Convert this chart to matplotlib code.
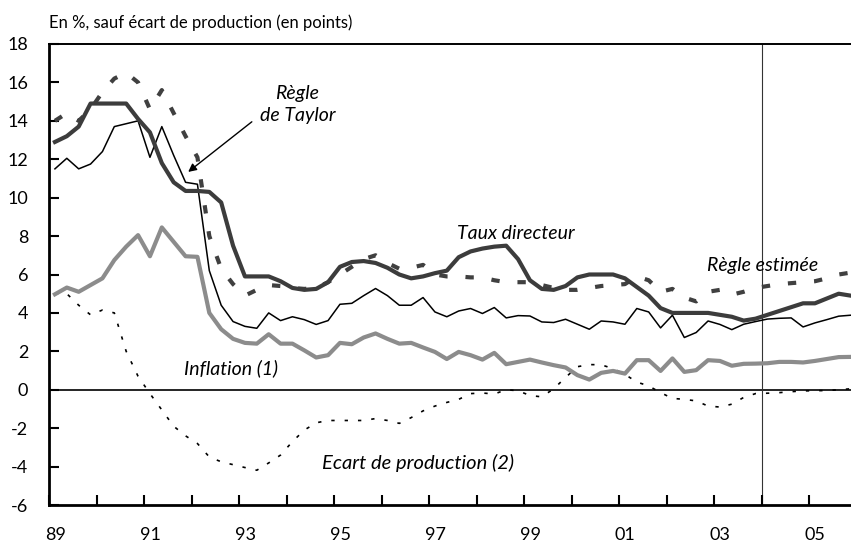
import numpy as np
import matplotlib.pyplot as plt

plt.rcParams['font.family'] = ['Lato', 'DejaVu Sans']
plt.rcParams['axes.unicode_minus'] = False

# quarterly data, 1989Q1 -> 2005Q4
taux = [12.9, 13.2, 13.7, 14.9, 14.9, 14.9, 14.9, 14.1, 13.4, 11.8, 10.8, 10.35,
        10.35, 10.3, 9.75, 7.5, 5.9, 5.9, 5.9, 5.65, 5.3, 5.2, 5.25, 5.6,
        6.4, 6.65, 6.7, 6.6, 6.35, 6.0, 5.8, 5.9, 6.07, 6.2, 6.9, 7.2,
        7.35, 7.45, 7.5, 6.8, 5.7, 5.25, 5.2, 5.4, 5.85, 6.0, 6.0, 6.0,
        5.8, 5.35, 4.9, 4.25, 4.0, 4.0, 4.0, 4.0, 3.9, 3.8, 3.6, 3.7,
        3.9, 4.1, 4.3, 4.5, 4.5, 4.75, 5.0, 4.9]
taylor = [11.5, 12.05, 11.5, 11.75, 12.4, 13.7, 13.85, 14.0, 12.1, 13.7, 12.2, 10.8,
          10.7, 6.2, 4.4, 3.55, 3.3, 3.2, 4.0, 3.6, 3.8, 3.65, 3.4, 3.6,
          4.45, 4.5, 4.9, 5.27, 4.9, 4.4, 4.4, 4.8, 4.05, 3.8, 4.1, 4.23,
          3.97, 4.28, 3.74, 3.86, 3.84, 3.53, 3.5, 3.67, 3.41, 3.15, 3.58, 3.53,
          3.41, 4.23, 4.05, 3.22, 3.88, 2.72, 2.98, 3.58, 3.4, 3.13, 3.41, 3.55,
          3.68, 3.72, 3.74, 3.27, 3.48, 3.65, 3.83, 3.88]
estimee = [14.0, 14.4, 14.0, 14.6, 15.5, 16.2, 16.5, 16.0, 14.6, 15.6, 14.4, 13.2,
           12.1, 8.0, 6.3, 5.5, 4.9, 5.2, 5.45, 5.4, 5.3, 5.25, 5.3, 5.6,
           6.0, 6.4, 6.8, 7.0, 6.6, 6.3, 6.35, 6.5, 6.0, 5.9, 5.9, 5.85,
           5.85, 5.7, 5.6, 5.6, 5.6, 5.45, 5.3, 5.2, 5.2, 5.3, 5.4, 5.45,
           5.5, 5.9, 5.7, 5.1, 5.25, 4.8, 4.6, 5.1, 5.2, 4.95, 5.1, 5.3,
           5.4, 5.5, 5.55, 5.6, 5.65, 5.8, 6.0, 6.1]
inflation = [4.97, 5.32, 5.1, 5.45, 5.8, 6.75, 7.45, 8.05, 6.95, 8.45, 7.7, 6.95,
             6.92, 4.0, 3.15, 2.65, 2.44, 2.4, 2.89, 2.4, 2.4, 2.05, 1.68, 1.8,
             2.44, 2.37, 2.72, 2.93, 2.65, 2.4, 2.44, 2.2, 1.97, 1.6, 1.97, 1.8,
             1.57, 1.92, 1.33, 1.45, 1.57, 1.42, 1.28, 1.16, 0.76, 0.53, 0.88, 0.98,
             0.84, 1.54, 1.54, 0.98, 1.63, 0.93, 1.02, 1.54, 1.5, 1.25, 1.35, 1.36,
             1.38, 1.45, 1.45, 1.42, 1.5, 1.6, 1.7, 1.71]
ecart = [5.0, 5.0, 4.4, 3.9, 4.15, 4.0, 2.0, 0.7, -0.2, -1.05, -1.9, -2.4,
         -2.8, -3.5, -3.75, -3.9, -4.05, -4.19, -3.81, -3.4, -2.7, -2.1, -1.72, -1.6,
         -1.6, -1.6, -1.6, -1.5, -1.6, -1.75, -1.45, -1.1, -0.85, -0.66, -0.5, -0.2,
         -0.17, -0.22, 0.0, -0.05, -0.3, -0.37, 0.05, 0.64, 1.2, 1.31, 1.3, 1.1,
         0.8, 0.4, 0.2, -0.15, -0.45, -0.5, -0.58, -0.85, -0.9, -0.75, -0.4, -0.2,
         -0.18, -0.15, -0.1, -0.06, -0.05, -0.04, 0.0, 0.05]

years = np.arange(1989, 2006)
year_labels = ['89', '91', '93', '95', '97', '99', '01', '03', '05']

x = 1989 + (np.arange(len(taux)) + 0.5) / 4

fig = plt.figure(figsize=(8.51, 5.48), dpi=100)
ax = fig.add_axes([49/851, 1 - 505/548, 1 - 49/851, (505 - 44)/548])

ax.axhline(0, color='black', lw=1.2, zorder=1)
ax.axvline(2004.0, color='#333333', lw=0.8, zorder=1)

ax.plot(x, ecart, color='black', lw=1.2, linestyle=(0, (2, 6)), zorder=2)
ax.plot(x, inflation, color='#8c8c8c', lw=3, zorder=3)
ax.plot(x, taylor, color='black', lw=1.1, zorder=4)
ax.plot(x, estimee, color='#404040', lw=3, linestyle=(0, (2, 4.3)),
        dash_capstyle='butt', zorder=5)
ax.plot(x, taux, color='#3c3c3c', lw=3, zorder=6)

ax.set_xlim(1989, 1989 + (851 - 49) / 47.5)
ax.set_ylim(-6, 18)
ax.set_yticks(np.arange(-6, 19, 2))

ax.set_xticks(years)
ax.set_xticklabels([''] * len(years))
label_pos = [1989 + 2 * k + 0.13 for k in range(len(year_labels))]
ax.set_xticks(label_pos, minor=True)
ax.set_xticklabels(year_labels, minor=True)
ax.tick_params(axis='x', which='major', direction='in', length=7, width=1.5)
ax.tick_params(axis='x', which='minor', length=0, pad=16, labelsize=13)
ax.tick_params(axis='y', direction='in', length=7, width=1.5, pad=15, labelsize=13)

ax.spines['right'].set_visible(False)
ax.spines['left'].set_linewidth(2)
ax.spines['bottom'].set_linewidth(2)
ax.spines['top'].set_linewidth(1.4)

fig.text(49/851, 1 - 23/548, 'En %, sauf écart de production (en points)',
         ha='left', va='center', fontsize=12)

ax.text(1994.23, 14.87, 'Règle\nde Taylor', ha='center', va='center',
        style='italic', fontsize=14, linespacing=1.35)
ax.annotate('', xy=(1991.93, 11.34), xytext=(1993.27, 13.95),
            arrowprops=dict(arrowstyle='-|>', color='black', lw=1,
                            mutation_scale=12, shrinkA=0, shrinkB=0))
ax.text(1998.83, 8.15, 'Taux directeur', ha='center', va='center',
        style='italic', fontsize=14)
ax.text(2004.02, 6.48, 'Règle estimée', ha='center', va='center',
        style='italic', fontsize=14)
ax.text(1992.83, 1.12, 'Inflation (1)', ha='center', va='center',
        style='italic', fontsize=14)
ax.text(1996.77, -3.81, 'Ecart de production (2)', ha='center', va='center',
        style='italic', fontsize=14.5)

plt.savefig('out.png', dpi=100)
